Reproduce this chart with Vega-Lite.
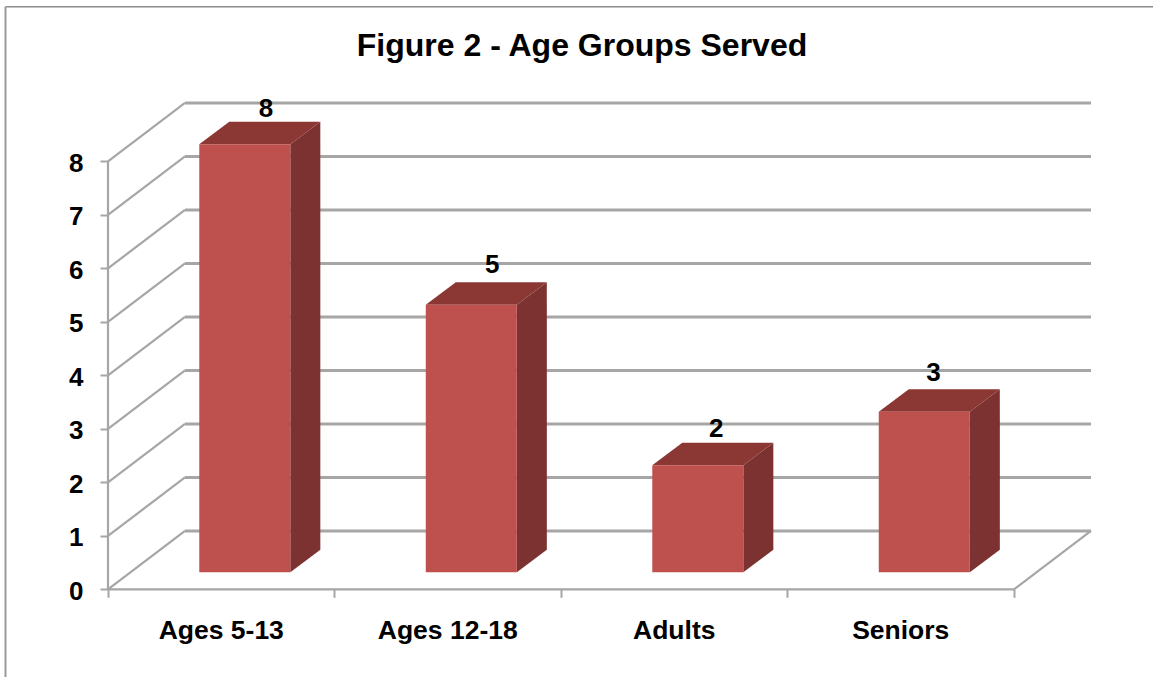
{"$schema":"https://vega.github.io/schema/vega-lite/v6.json","width":1153,"height":677,"padding":0,"autosize":{"type":"none"},"background":"#ffffff","config":{"view":{"stroke":null},"font":"Liberation Sans"},"title":{"text":"Figure 2 - Age Groups Served","font":"Liberation Sans","fontSize":32,"fontWeight":"bold","color":"#000000","anchor":"middle","dx":5.5,"offset":-63,"frame":"group"},"datasets":{"bars":[{"category":"Ages 5-13","value":8,"order":0},{"category":"Ages 12-18","value":5,"order":1},{"category":"Adults","value":2,"order":2},{"category":"Seniors","value":3,"order":3}],"levels":[{"v":0},{"v":1},{"v":2},{"v":3},{"v":4},{"v":5},{"v":6},{"v":7},{"v":8}]},"data":{"name":"levels"},"transform":[],"layer":[{"mark":{"type":"rule","color":"#A6A6A6","strokeWidth":2.2},"transform":[{"calculate":"datum.v+1.09","as":"back"}],"encoding":{"x":{"datum":0,"type":"quantitative","scale":{"domain":[-0.4768,4.6137],"nice":false,"zero":false},"axis":{"values":[0,1,2,3,4],"labels":false,"title":null,"grid":false,"domain":false,"orient":"bottom","offset":-87.7,"tickSize":8,"tickWidth":2,"tickColor":"#A6A6A6"}},"x2":{"datum":0.34},"y":{"field":"v","type":"quantitative","scale":{"domain":[-1.639,11.015],"nice":false,"zero":false},"axis":{"values":[0,1,2,3,4,5,6,7,8],"format":"d","title":null,"grid":false,"domain":false,"orient":"left","offset":-108,"tickSize":8,"tickWidth":2,"tickColor":"#A6A6A6","labelFont":"Liberation Sans","labelFontSize":26,"labelFontWeight":"bold","labelColor":"#000000","labelPadding":17,"labelOffset":2,"labelBound":false,"labelOverlap":false}},"y2":{"field":"back"}}},{"mark":{"type":"rule","color":"#A6A6A6","strokeWidth":2.8},"transform":[{"calculate":"datum.v+1.09","as":"back"}],"encoding":{"x":{"datum":0.34,"type":"quantitative"},"x2":{"datum":4.34},"y":{"field":"back","type":"quantitative"}}},{"mark":{"type":"rule","color":"#A6A6A6","strokeWidth":2.2},"transform":[{"filter":"datum.v==0"}],"encoding":{"x":{"datum":0,"type":"quantitative"},"y":{"datum":0,"type":"quantitative"},"y2":{"datum":8}}},{"mark":{"type":"rule","color":"#A6A6A6","strokeWidth":2.2},"transform":[{"filter":"datum.v==0"}],"encoding":{"x":{"datum":0,"type":"quantitative"},"x2":{"datum":4},"y":{"datum":0,"type":"quantitative"}}},{"mark":{"type":"rule","color":"#A6A6A6","strokeWidth":2.2},"transform":[{"filter":"datum.v==0"}],"encoding":{"x":{"datum":4,"type":"quantitative"},"x2":{"datum":4.34},"y":{"datum":0,"type":"quantitative"},"y2":{"datum":1.09}}},{"mark":{"type":"rule","color":"#8C8C8C","strokeWidth":1.6},"transform":[{"filter":"datum.v==0"}],"encoding":{"x":{"datum":-0.4525,"type":"quantitative"},"x2":{"datum":4.6137},"y":{"datum":10.89,"type":"quantitative"}}},{"mark":{"type":"rule","color":"#9A9A9A","strokeWidth":2},"transform":[{"filter":"datum.v==0"}],"encoding":{"x":{"datum":-0.4525,"type":"quantitative"},"y":{"datum":10.89,"type":"quantitative"},"y2":{"datum":-1.639}}},{"data":{"name":"bars"},"mark":{"type":"area","orient":"vertical","color":"#7C3230"},"transform":[{"calculate":"[0,1]","as":"t"},{"flatten":["t"]},{"calculate":"datum.order+0.805+datum.t*0.1325","as":"sx"},{"calculate":"0.32+datum.value+datum.t*0.42","as":"sy"},{"calculate":"0.32+datum.t*0.42","as":"sy2"}],"encoding":{"x":{"field":"sx","type":"quantitative"},"y":{"field":"sy","type":"quantitative","stack":null},"y2":{"field":"sy2"},"detail":{"field":"category"}}},{"data":{"name":"bars"},"mark":{"type":"area","orient":"horizontal","color":"#8B3734"},"transform":[{"calculate":"[0,1]","as":"t"},{"flatten":["t"]},{"calculate":"datum.order+0.403+datum.t*0.1325","as":"tx"},{"calculate":"datum.order+0.805+datum.t*0.1325","as":"tx2"},{"calculate":"0.32+datum.value+datum.t*0.42","as":"ty"}],"encoding":{"y":{"field":"ty","type":"quantitative"},"x":{"field":"tx","type":"quantitative","stack":null},"x2":{"field":"tx2"},"detail":{"field":"category"}}},{"data":{"name":"bars"},"mark":{"type":"rect","color":"#BE504E"},"transform":[{"calculate":"datum.order+0.403","as":"left"},{"calculate":"datum.order+0.805","as":"right"},{"calculate":"0.32+datum.value","as":"top"},{"calculate":"0.32","as":"base"}],"encoding":{"x":{"field":"left","type":"quantitative"},"x2":{"field":"right"},"y":{"field":"top","type":"quantitative"},"y2":{"field":"base"}}},{"data":{"name":"bars"},"mark":{"type":"text","font":"Liberation Sans","fontSize":26,"fontWeight":"bold","color":"#000000","baseline":"middle","align":"center"},"transform":[{"calculate":"datum.order+[0.698,0.696,0.685,0.644][datum.order]","as":"lx"},{"calculate":"datum.value+[0.97,1.07,1.0,1.05][datum.order]","as":"ly"}],"encoding":{"x":{"field":"lx","type":"quantitative"},"y":{"field":"ly","type":"quantitative"},"text":{"field":"value","type":"quantitative","format":"d"}}},{"data":{"name":"bars"},"mark":{"type":"text","font":"Liberation Sans","fontSize":26.5,"fontWeight":"bold","color":"#000000","baseline":"middle","align":"center"},"transform":[{"calculate":"datum.order+0.5","as":"lx"},{"calculate":"-0.78","as":"ly"}],"encoding":{"x":{"field":"lx","type":"quantitative"},"y":{"field":"ly","type":"quantitative"},"text":{"field":"category","type":"nominal"}}}]}
